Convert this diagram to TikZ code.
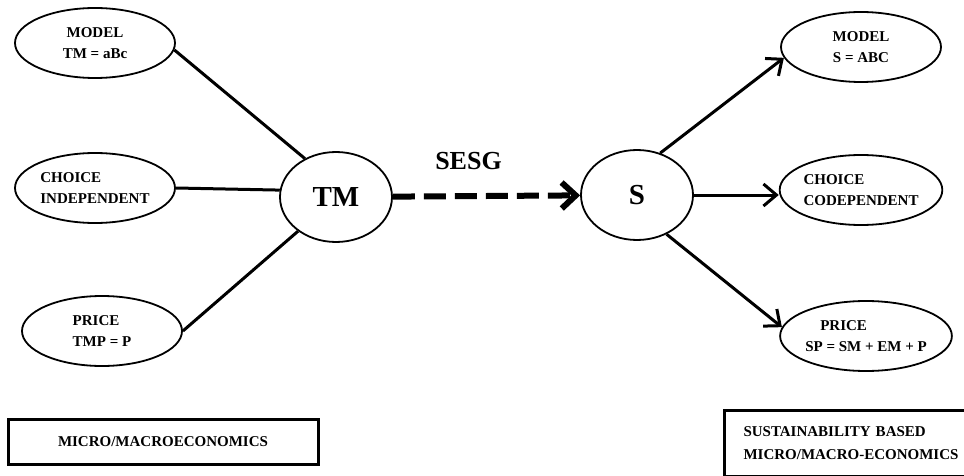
\documentclass[tikz,border=0pt]{standalone}
\usepackage{fontspec}
\setmainfont{Liberation Serif}
\usetikzlibrary{shapes.geometric,arrows.meta,positioning}
\tikzstyle{small state}=[
    draw,
    line width = 1.8pt,
    ellipse,
    minimum width = 160pt,
    minimum height = 70pt,
    inner sep = 0pt,
    font = \bfseries\fontsize{15}{21}\selectfont
]
\tikzstyle{big state}=[
    draw,
    line width = 1.8pt,
    ellipse,
    minimum width = 112pt,
    minimum height = 90pt,
    inner sep = 0pt,
    font = \bfseries\fontsize{29}{30}\selectfont
]
\tikzstyle{label box}=[
    draw,
    line width = 3pt,
    inner sep = 0pt,
    font = \bfseries\fontsize{15}{23}\selectfont
]

\begin{document}
\begin{tikzpicture}[x=1pt, y=-1pt,
    link/.style = {line width=3pt},
    arrow/.style = {line width=3pt, -{Straight Barb[length=13pt,width=22pt]}}]
        \useasboundingbox (0,0) rectangle (964,476);

        \node[big state] (tm) at (336,197) {TM};
        \node[big state] (s) at (637,195) {S};

        \node[small state, align=center] (m1) at (95,43) {MODEL\\TM = aBc};
        \node[small state, align=left] (c1) at (95,188) {CHOICE\\INDEPENDENT};
        \node[small state, align=left] (p1) at (102,331) {PRICE\\TMP = P};

        \node[small state, align=center] (m2) at (861,47) {MODEL\\S = ABC};
        \node[small state, align=left] (c2) at (861,190) {CHOICE\\CODEPENDENT};
        \node[small state, align=left] (p2) at (866,336) {\hspace*{15pt}PRICE\\SP = SM + EM + P};

        \draw[link] (m1.-5) -- (tm.129);
        \draw[link] (c1.east) -- (tm.173);
        \draw[link] (p1.east) -- (tm.222);

        \draw[line width=6pt, dash pattern=on 22pt off 9pt,
            -{Straight Barb[length=14pt,width=26pt]}] (tm) -- (s)
            node [midway, above=23pt, xshift=-18pt, inner sep=0pt,
            font=\bfseries\fontsize{26}{28}\selectfont] {SESG};

        \draw[arrow] (s.61) -- (m2.188);
        \draw[arrow] (s.east) -- (s.east -| c2.west);
        \draw[arrow] (s.-53) -- (p2.174);

        \node[label box, minimum width=310pt, minimum height=45pt] (micro) at (163,441.5) {MICRO/MACROECONOMICS};
        \node[label box, anchor=north west, text width=240pt, inner xsep=19pt,
            minimum height=66pt, align=left] (sust) at (723,409) {SUSTAINABILITY BASED\\MICRO/MACRO-ECONOMICS};

    \end{tikzpicture}
\end{document}
